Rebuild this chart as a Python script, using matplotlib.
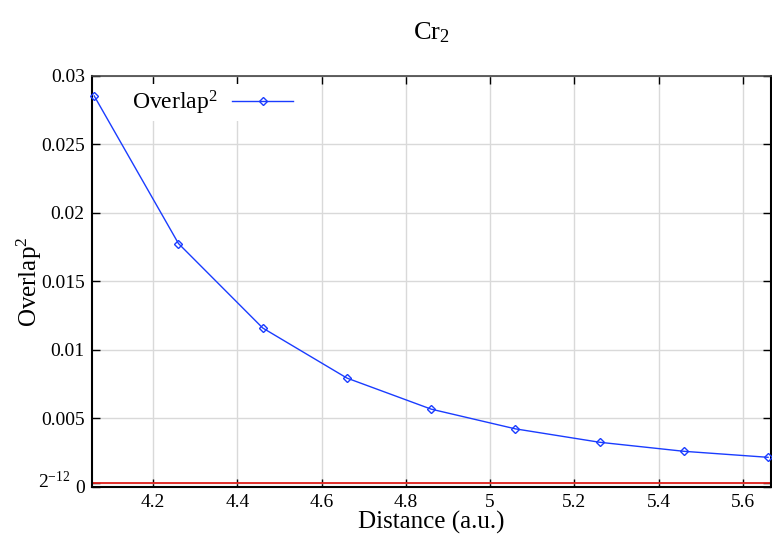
import matplotlib
matplotlib.use('Agg')
import matplotlib.pyplot as plt
from matplotlib.transforms import ScaledTranslation

# --- Data ---
distance = [4.06, 4.26, 4.46, 4.66, 4.86, 5.06, 5.26, 5.46, 5.66]
overlap2 = [0.02854, 0.01776, 0.01159, 0.00793, 0.00566,
            0.00422, 0.00324, 0.00258, 0.00214]
threshold = 2.0 ** -12

y_ticks = [0, threshold, 0.005, 0.01, 0.015, 0.02, 0.025, 0.03]
y_ticklabels = ['0', '$2^{-12}$', '0.005', '0.01', '0.015', '0.02', '0.025', '0.03']
x_ticks = [4.2, 4.4, 4.6, 4.8, 5.0, 5.2, 5.4, 5.6]
x_ticklabels = ['4.2', '4.4', '4.6', '4.8', '5', '5.2', '5.4', '5.6']

# --- Style ---
plt.rcParams.update({
    'font.family': 'Liberation Serif',
    'mathtext.fontset': 'custom',
    'mathtext.rm': 'Liberation Serif',
    'mathtext.it': 'Liberation Serif:italic',
    'mathtext.bf': 'Liberation Serif:bold',
    'font.size': 14,
})

LINE_COLOR = '#1a3cff'

fig = plt.figure(figsize=(7.72, 5.44), dpi=100)
ax = fig.add_axes([0.1188, 0.1055, 0.8799, 0.7548])

ax.grid(True, color='#d9d9d9', linewidth=1.0, zorder=0)
ax.axhline(threshold, color='#e0201b', linewidth=1.3, zorder=2)
ax.plot(distance, overlap2, color=LINE_COLOR, linewidth=1.0,
        marker='D', markersize=4.5, markerfacecolor='none',
        markeredgecolor=LINE_COLOR, markeredgewidth=1.0,
        label='Overlap$^2$', zorder=3, clip_on=False)

ax.set_xlim(4.054, 5.667)
ax.set_ylim(0, 0.03)
ax.set_xticks(x_ticks)
ax.set_xticklabels(x_ticklabels)
ax.set_yticks(y_ticks)
ax.set_yticklabels(y_ticklabels)

ax.tick_params(direction='in', length=6, width=1, top=True, right=True,
               labelsize=14, pad=5)

# nudge the 2^-12 label left and up so it sits beside the 0 label
lab = ax.get_yticklabels()[1]
lab.set_transform(lab.get_transform() + ScaledTranslation(-10 / 72, 3 / 72, fig.dpi_scale_trans))

for side in ['left', 'bottom', 'right']:
    ax.spines[side].set_linewidth(1.5)
    ax.spines[side].set_color('black')
ax.spines['top'].set_linewidth(1.2)
ax.spines['top'].set_color('#444444')

ax.set_xlabel('Distance (a.u.)', fontsize=18, labelpad=0)
ax.set_ylabel('Overlap$^2$', fontsize=18, labelpad=-4)
ax.set_title('Cr$_2$', fontsize=19, pad=26)

leg = ax.legend(loc='upper left', markerfirst=False, frameon=True,
                fontsize=17, handlelength=2.6, borderpad=0.2,
                handletextpad=0.6, bbox_to_anchor=(0.035, 1.01))
leg.get_frame().set_facecolor('white')
leg.get_frame().set_edgecolor('none')
leg.get_frame().set_alpha(1.0)

fig.savefig('out.png', dpi=100)
